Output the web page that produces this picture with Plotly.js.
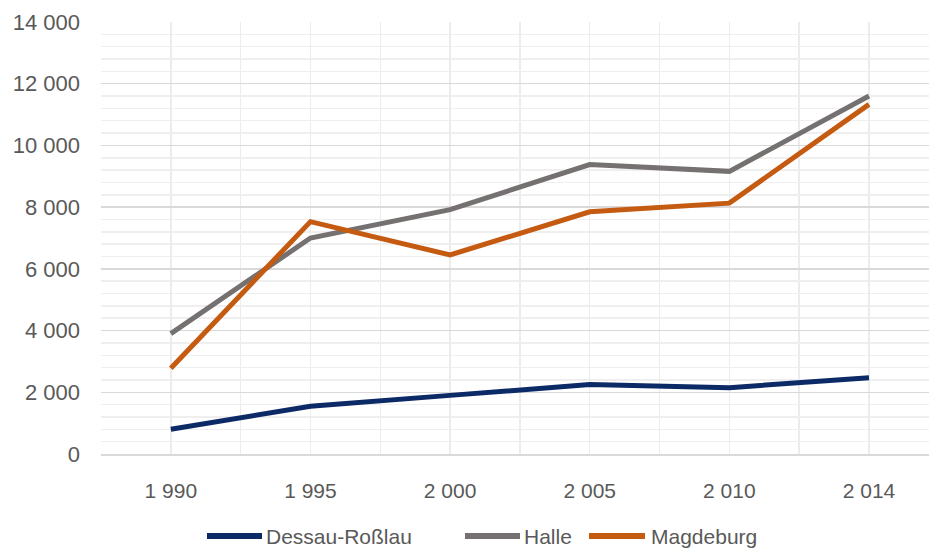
<!DOCTYPE html>
<html>
<head>
<meta charset="utf-8">
<script src="https://cdn.plot.ly/plotly-3.0.1.min.js"></script>
<style>
  html, body { margin: 0; padding: 0; background: #fff; }
  #chart { width: 929px; height: 550px; }
</style>
</head>
<body>
<div id="chart"></div>
<script>
// ---- data ----
const years = ["1 990", "1 995", "2 000", "2 005", "2 010", "2 014"];
const seriesNames = ["Dessau-Roßlau", "Halle", "Magdeburg"];
const dessau = [800, 1550, 1900, 2250, 2150, 2470];
const halle = [3900, 7000, 7920, 9380, 9160, 11600];
const magdeburg = [2780, 7530, 6450, 7850, 8130, 11330];
const yTickValues = [0, 2000, 4000, 6000, 8000, 10000, 12000, 14000];
const yTickLabels = ["0", "2 000", "4 000", "6 000", "8 000", "10 000", "12 000", "14 000"];

const colors = ["#0c2a66", "#767171", "#c55a11"];
const seriesValues = [dessau, halle, magdeburg];
const xIdx = years.map((_, i) => i);

const W = 929, H = 550;
const margin = { l: 101, r: 0, t: 22, b: 96 };
const plotW = W - margin.l - margin.r;
const plotH = H - margin.t - margin.b;
const font = "'Liberation Sans', Arial, sans-serif";
const textColor = "#595959";

const traces = seriesNames.map((name, k) => ({
  type: "scatter",
  mode: "lines",
  name: name,
  x: xIdx,
  y: seriesValues[k],
  line: { color: colors[k], width: 5 },
  showlegend: false,
  hoverinfo: "x+y+name"
}));

// manual legend (pixel positions converted to paper coords)
const legendItems = [
  { lineX0: 207, lineX1: 262, textX: 264 },
  { lineX0: 465, lineX1: 520, textX: 522 },
  { lineX0: 589, lineX1: 645, textX: 649 }
];
const legendY = 536;
const px2x = px => (px - margin.l) / plotW;
const px2y = py => (H - margin.b - py) / plotH;

const shapes = legendItems.map((it, k) => ({
  type: "line", xref: "paper", yref: "paper",
  x0: px2x(it.lineX0), x1: px2x(it.lineX1),
  y0: px2y(legendY), y1: px2y(legendY),
  line: { color: colors[k], width: 6 }
}));
const annotations = legendItems.map((it, k) => ({
  xref: "paper", yref: "paper",
  x: px2x(it.textX), y: px2y(legendY),
  xanchor: "left", yanchor: "middle",
  text: seriesNames[k], showarrow: false,
  font: { family: font, size: 21, color: textColor }
}));

const layout = {
  width: W, height: H,
  margin: margin,
  paper_bgcolor: "#ffffff",
  plot_bgcolor: "#ffffff",
  font: { family: font, size: 21, color: textColor },
  showlegend: false,
  xaxis: {
    range: [-0.5, 5 + (929 - 869) / 139.6],
    tickmode: "array",
    tickvals: xIdx,
    ticktext: years,
    showgrid: true,
    gridcolor: "#ececec",
    gridwidth: 1.5,
    minor: { tickmode: "linear", tick0: -0.5, dtick: 1, showgrid: true, gridcolor: "#ececec", gridwidth: 1.5, ticks: "" },
    zeroline: false,
    showline: true,
    linecolor: "#d9d9d9",
    linewidth: 2,
    ticks: "",
    ticklabelstandoff: 17,
    tickfont: { family: font, size: 21, color: textColor },
    fixedrange: true
  },
  yaxis: {
    range: [0, 14000],
    tickmode: "array",
    tickvals: yTickValues,
    ticktext: yTickLabels,
    showgrid: true,
    gridcolor: "#d9d9d9",
    gridwidth: 1.5,
    minor: { tickmode: "linear", tick0: 0, dtick: 400, showgrid: true, gridcolor: "#efefef", gridwidth: 1.5, ticks: "" },
    zeroline: false,
    showline: false,
    ticks: "",
    ticklabelstandoff: 20,
    tickfont: { family: font, size: 22, color: textColor },
    fixedrange: true
  },
  shapes: shapes,
  annotations: annotations
};

Plotly.newPlot("chart", traces, layout, { displayModeBar: false, staticPlot: true });
</script>
</body>
</html>
